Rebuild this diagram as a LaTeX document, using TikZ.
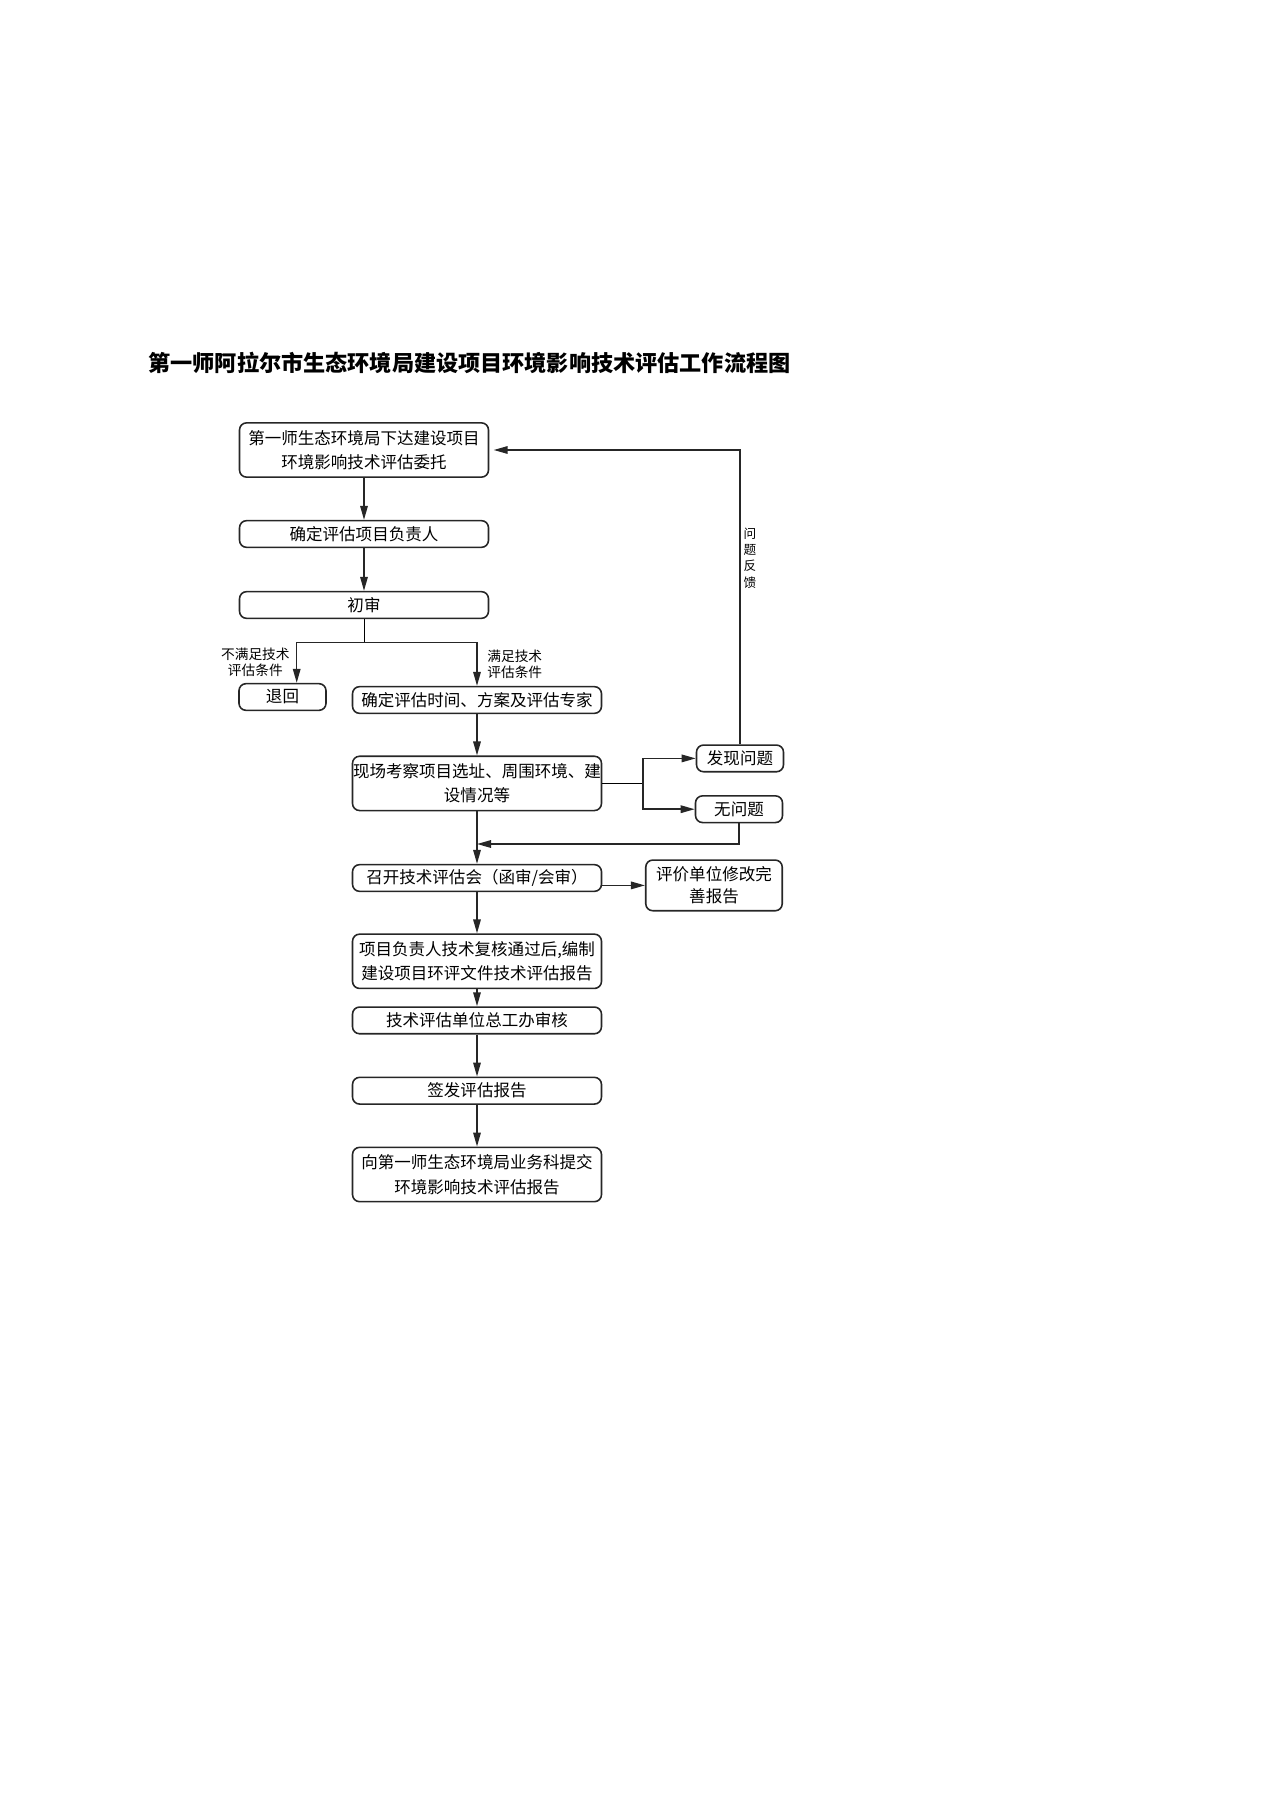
\documentclass[tikz,border=0pt]{standalone}
\usepackage{fontspec}
\newfontfamily\cjk{Noto Sans CJK SC}
\usetikzlibrary{arrows.meta}

\begin{document}
\begin{tikzpicture}[x=0.02cm,y=-0.02cm,
        box/.style={draw=black!85,line width=0.9pt,rounded corners=4pt,inner sep=0pt,align=center,
            font=\cjk\fontsize{9.4}{13.9}\selectfont,minimum height=0.534cm},
        wide/.style={box,minimum width=4.98cm},
        small/.style={box,minimum width=1.74cm},
        tall/.style={minimum height=1.086cm},
        arr/.style={draw=black!85,line width=0.9pt,-{Triangle[length=0.28cm,width=0.15cm]}},
        note/.style={font=\cjk\fontsize{7.8}{8.9}\selectfont,align=center,inner sep=0pt}]
        \useasboundingbox (0,0) rectangle (1268,1807);
        
        % Title
        \node[font=\cjk\bfseries\fontsize{12.6}{15}\selectfont] (title) at (469.5,362.5) {第一师阿拉尔市生态环境局建设项目环境影响技术评估工作流程图};
        
        % Upper column
        \node[wide,tall] (entrust) at (364,450) {第一师生态环境局下达建设项目\\环境影响技术评估委托};
        \node[wide] (leader) at (364,534) {确定评估项目负责人};
        \node[wide] (prelim) at (364,605) {初审};
        \node[small] (back) at (282.5,697) {退回};
        
        % Lower column
        \node[wide] (plan) at (477,700) {确定评估时间、方案及评估专家};
        \node[wide,tall] (site) at (477,783.4) {现场考察项目选址、周围环境、建\\设情况等};
        \node[small] (found) at (740,758.4) {发现问题};
        \node[small] (noissue) at (739,809.2) {无问题};
        \node[wide] (meeting) at (477,878) {召开技术评估会（函审/会审）};
        \node[box,minimum width=2.73cm,minimum height=1.014cm,font=\cjk\fontsize{9.4}{12.3}\selectfont] (revise) at (714,885.4) {评价单位修改完\\善报告};
        \node[wide,tall] (report) at (477,961.3) {项目负责人技术复核通过后,编制\\建设项目环评文件技术评估报告};
        \node[wide] (chief) at (477,1020.4) {技术评估单位总工办审核};
        \node[wide] (sign) at (477,1090.7) {签发评估报告};
        \node[wide,tall] (submit) at (477,1174.5) {向第一师生态环境局业务科提交\\环境影响技术评估报告};
        
        % Branch after the first review
        \coordinate (split) at (364,642.5);
        \coordinate (nobr) at (296.7,642.5);
        \draw[arr] (entrust) -- (leader);
        \draw[arr] (leader) -- (prelim);
        \draw (prelim.south) -- (split);
        \draw[arr] (split) -- (nobr) -- (nobr |- back.north);
        \draw[arr] (split) -| (plan.north);
        \node[note,anchor=east] (nolabel) at (290,662) {不满足技术\\评估条件};
        \node[note,anchor=west] (yeslabel) at (487,664) {满足技术\\评估条件};
        
        % Site visit and feedback loop
        \coordinate (fork) at (642.7,783.4);
        \coordinate (merge) at (477,844);
        \draw[arr] (plan) -- (site);
        \draw (site.east) -- (fork);
        \draw[arr] (fork) |- (found.west);
        \draw[arr] (fork) |- (noissue.west);
        \draw[arr,shorten >=2.5pt] (found.north) |- (entrust.east);
        \node[font=\cjk\fontsize{7.2}{9.3}\selectfont,align=center,inner sep=0pt] (fbl) at (750,558) {问\\题\\反\\馈};
        \draw[arr] (noissue.south) |- (merge);
        
        % Review and report
        \draw[arr] (site) -- (meeting);
        \draw[arr] (meeting.east |- revise.west) -- (revise.west);
        \draw[arr] (meeting) -- (report);
        \draw[arr] (report) -- (chief);
        \draw[arr] (chief) -- (sign);
        \draw[arr] (sign) -- (submit);
    \end{tikzpicture}
\end{document}
